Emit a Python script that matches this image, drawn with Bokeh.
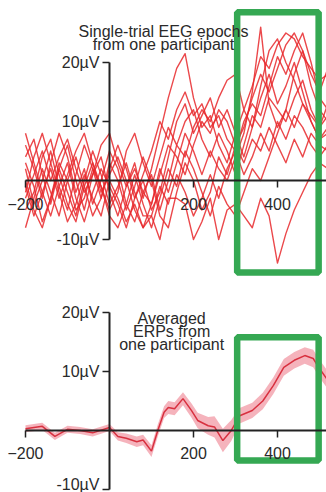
from bokeh.plotting import figure
from bokeh.layouts import column
from bokeh.models import FixedTicker, PrintfTickFormatter, Label, Range1d
from bokeh.embed import file_html
from bokeh.resources import INLINE

# ---------------- data ----------------
trial_ms = [-200, -180, -160, -140, -120, -100, -80, -60, -40, -20,
            0, 20, 40, 60, 80, 100, 120, 140, 160, 180, 200, 220, 240, 260, 280,
            300, 320, 340, 360, 380, 400, 420, 440, 460, 480, 500, 520]

trial_1 = [4, 7, 1, -4, 2, 6, 0, -5, 1, 4, -2, -6, -1, 3, -3, 2, 8, 14, 19, 21.5,
           14, 9, 11, 6, 3, 8, 12, 9, 14, 18, 13, 16, 20, 15, 10, 7, 9]
trial_2 = [6, 2, -3, 3, 8, 4, -2, 2, -4, 0, 5, 2, -4, -7, -2, 1, -5, 0, 6, 4,
           9, 12, 10, 14, 17, 18, 12, 16, 21, 19, 23, 25, 24, 21, 19, 17, 18]
trial_3 = [-5, -2, 4, 7, 1, -4, -7, -1, 3, -2, 1, 4, 0, -5, -8, -4, 2, -2, 3, 8,
           5, 1, 5, 2, 0, 4, 8, 15, 26, 13, 9, 12, 18, 22, 16, 12, 10]
trial_4 = [3, -1, -7, -3, 2, -2, -6, 0, 5, 1, -4, -1, 3, -2, -6, -6, -10, -3, -3, -4,
           -10, -7, -3, -10, -5, -4, -6, -8, -3, -6, -14, -9, -5, -2, 1, 3, 2]
trial_5 = [2, -4, 0, 5, -1, -5, 1, 6, 2, -3, 2, 6, 2, -3, 1, 5, 10, 7, 12, 15,
           11, 13, 9, 11, 7, 5, 10, 13, 11, 16, 21, 18, 22, 25, 20, 14, 12]
trial_6 = [-8, -3, 2, -2, -6, 0, 4, -1, -6, -3, 3, 0, -5, -1, 4, 0, -6, -8, -2, 3,
           0, -5, -2, 4, 1, 6, 3, 7, 5, 9, 6, 3, 7, 4, 8, 6, 5]
trial_7 = [-1, -6, -2, 2, -3, 1, 5, 8, 3, -1, -5, -2, 5, 8, 3, -1, 4, 9, 6, 10,
           12, 7, 4, 8, 5, 1, 6, 11, 9, 14, 12, 10, 14, 17, 12, 9, 11]
trial_8 = [8, 3, -2, -6, -1, 3, -3, -7, -2, 2, -1, -4, -8, -3, 0, -5, -2, 4, 10, 13,
           8, 11, 14, 9, 12, 8, 4, 9, 16, 22, 24, 20, 17, 13, 11, 9, 13]
trial_9 = [-2, 4, 8, 3, -2, -7, -4, 1, -3, -6, 0, -3, -7, -4, -8, -6, -1, -4, 1, -2,
           -6, -3, 1, -3, 2, 5, 1, 4, 8, 5, 10, 7, 11, 9, 6, 4, 6]
trial_10 = [-3, 1, 5, 0, 4, 7, 2, -2, 1, 6, 8, 3, -1, 2, -2, -4, 1, 6, 4, 1,
            6, 10, 8, 12, 10, 6, 9, 14, 18, 15, 19, 23, 25, 22, 18, 15, 19]
trial_11 = [0, -5, -8, -3, 3, 0, -5, -3, 2, -1, -6, -8, -4, 1, -4, -8, -3, 2, -1, 5,
            2, -2, -6, -1, -4, -6, -2, 2, 0, 4, 8, 12, 9, 13, 10, 7, 8]

trials = [trial_1, trial_2, trial_3, trial_4, trial_5, trial_6,
          trial_7, trial_8, trial_9, trial_10, trial_11]

erp_ms = [-200, -160, -130, -100, -70, -40, 0, 20, 40, 65, 80, 100, 115, 130, 140,
          155, 175, 195, 210, 235, 250, 270, 290, 310, 340, 365, 390, 415, 440, 465,
          485, 500, 520]
erp_uv = [0.3, 0.7, -1.0, 0.2, 0.0, -0.4, 0.5, -1.0, -1.3, -1.9, -1.6, -3.5, 0.0,
          3.1, 3.9, 3.7, 5.4, 3.4, 1.7, 0.8, 0.6, -1.7, 0.0, 2.5, 3.4, 5.0, 7.6, 10.7,
          11.9, 12.7, 12.2, 10.5, 8.5]
erp_sem = [0.6, 0.6, 0.6, 0.6, 0.6, 0.6, 0.6, 0.7, 0.8, 0.9, 0.9, 1.0, 1.0,
           1.0, 1.1, 1.1, 1.1, 1.2, 1.3, 1.5, 1.8, 2.0, 1.8, 1.3, 1.3, 1.4, 1.4, 1.4,
           1.4, 1.4, 1.5, 1.5, 1.5]

x_ticks = [-200, 200, 400]
y_ticks = [-10, 10, 20]

top_title = ["Single-trial EEG epochs", "from one participant"]
bottom_title = ["Averaged", "ERPs from", "one participant"]

# ---------------- styling helpers ----------------
FONT = "Liberation Sans"
GREEN = "#35a853"
TXT = "#2a2a2a"


def style(p):
    p.min_border = 0
    p.outline_line_color = None
    p.grid.visible = False
    p.background_fill_color = "white"
    for ax in (p.xaxis[0], p.yaxis[0]):
        ax.fixed_location = 0
        ax.axis_line_color = "#222222"
        ax.axis_line_width = 2
        ax.major_tick_line_color = "#222222"
        ax.major_tick_line_width = 1.5
        ax.major_tick_in = 0
        ax.major_tick_out = 7
        ax.minor_tick_line_color = None
        ax.major_label_text_font = FONT
        ax.major_label_text_font_size = "16px"
        ax.major_label_text_color = TXT
    p.xaxis[0].ticker = FixedTicker(ticks=x_ticks)
    p.xaxis[0].bounds = (-200, 520)
    p.xaxis[0].major_label_standoff = 10
    p.yaxis[0].ticker = FixedTicker(ticks=y_ticks)
    p.yaxis[0].bounds = (-10, 20)
    p.yaxis[0].major_label_standoff = 3
    p.yaxis[0].formatter = PrintfTickFormatter(format="%dµV")


def add_title(p, lines, x, y0, dy):
    for i, t in enumerate(lines):
        p.add_layout(Label(x=x, y=y0 - i * dy, text=t, text_align="center",
                           text_baseline="middle", text_font=FONT,
                           text_font_size="16px", text_color=TXT))


X_RANGE = (-259.5, 516.7)

# ---------------- top panel ----------------
top = figure(width=326, height=290, output_backend="svg", toolbar_location=None,
             x_range=Range1d(*X_RANGE), y_range=Range1d(-18.64, 30.51))
style(top)
for tr in trials:
    top.line(trial_ms, tr, line_color="#e8282c", line_width=1.4, line_alpha=0.85,
             line_join="round")
add_title(top, top_title, 128.6, 25.25, 2.2)
top.quad(left=[304], right=[498], bottom=[-15.6], top=[28.5], fill_color=None,
         line_color=GREEN, line_width=6.5)

# ---------------- bottom panel ----------------
bot = figure(width=326, height=202, output_backend="svg", toolbar_location=None,
             x_range=Range1d(*X_RANGE), y_range=Range1d(-10.51, 23.73))
style(bot)
upper = [m + s for m, s in zip(erp_uv, erp_sem)]
lower = [m - s for m, s in zip(erp_uv, erp_sem)]
bot.varea(x=erp_ms, y1=lower, y2=upper, fill_color="#f29aa5", fill_alpha=0.75)
bot.line(erp_ms, erp_uv, line_color="#d8303f", line_width=1.5)
add_title(bot, bottom_title, 148, 18.93, 2.2)
bot.quad(left=[304], right=[498], bottom=[-5.1], top=[15.8], fill_color=None,
         line_color=GREEN, line_width=6.5)

layout = column(top, bot, spacing=0)
open("out.html", "w", encoding="utf-8").write(file_html(layout, INLINE))
